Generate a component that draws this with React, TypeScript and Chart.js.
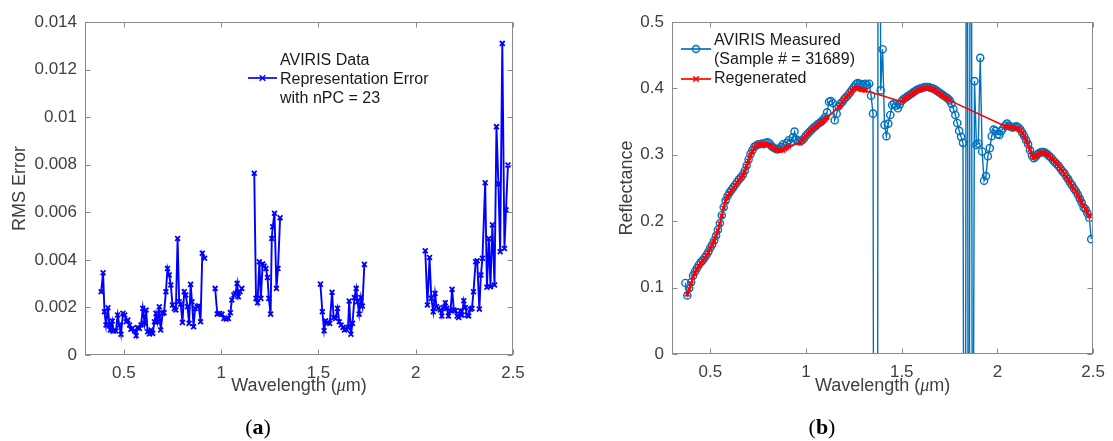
import React, { useEffect, useRef } from "react";
import { Chart, registerables } from "chart.js";

Chart.register(...registerables);

const FONT = "'Liberation Sans', Arial, Helvetica, sans-serif";
const SERIF = "'Liberation Serif', 'DejaVu Serif', serif";

// ---------- Panel (a): RMS representation error ----------
const rmsWavelength: (number | null)[] = [
  0.383, 0.393, 0.400, 0.408, 0.418, 0.425, 0.430, 0.440, 0.447, 0.459,
  0.468, 0.476, 0.485, 0.495, 0.504, 0.512, 0.520, 0.529, 0.536, 0.544,
  0.555, 0.563, 0.570, 0.580, 0.588, 0.597, 0.606, 0.614, 0.622, 0.631,
  0.639, 0.648, 0.657, 0.665, 0.673, 0.682, 0.689, 0.699, 0.706, 0.716,
  0.724, 0.733, 0.741, 0.750, 0.759, 0.767, 0.776, 0.784, 0.792, 0.801,
  0.810, 0.818, 0.827, 0.835, 0.843, 0.850, 0.858, 0.866, 0.877, 0.884,
  0.894, 0.903, 0.915,
  0.94,
  0.969, 0.980, 0.991, 1.004, 1.014, 1.026, 1.037, 1.047, 1.055, 1.065,
  1.073, 1.082, 1.088, 1.097, 1.106,
  1.14,
  1.170, 1.179, 1.187, 1.196, 1.204, 1.213, 1.221, 1.230, 1.238, 1.245,
  1.254, 1.260, 1.265, 1.274, 1.284, 1.292, 1.303,
  1.40,
  1.510, 1.520, 1.529, 1.537, 1.547, 1.558, 1.570, 1.578, 1.588, 1.598,
  1.607, 1.616, 1.626, 1.634, 1.643, 1.652, 1.658, 1.667, 1.675, 1.685,
  1.694, 1.701, 1.709, 1.718, 1.726, 1.736,
  1.90,
  2.049, 2.060, 2.071, 2.080, 2.090, 2.099, 2.107, 2.116, 2.126, 2.134,
  2.143, 2.152, 2.160, 2.168, 2.179, 2.187, 2.196, 2.204, 2.213, 2.221,
  2.230, 2.238, 2.247, 2.255, 2.264, 2.272, 2.281, 2.289, 2.297, 2.308,
  2.316, 2.327, 2.335, 2.343, 2.357, 2.366, 2.376, 2.384, 2.394, 2.405,
  2.415, 2.425, 2.434, 2.445, 2.456, 2.464, 2.474,
];

const rmsError: (number | null)[] = [
  0.00266, 0.00346, 0.00182, 0.00126, 0.00199, 0.00126, 0.00105, 0.00143, 0.00101, 0.00101,
  0.00168, 0.00126, 0.00087, 0.00175, 0.00168, 0.0014, 0.00147, 0.00126, 0.00108, 0.00112,
  0.00101, 0.00081, 0.00115, 0.00112, 0.00126, 0.00196, 0.00133, 0.00189, 0.00098, 0.00088,
  0.00105, 0.00091, 0.0014, 0.00175, 0.0014, 0.00203, 0.00105, 0.00175, 0.00178, 0.00266,
  0.00364, 0.00336, 0.00294, 0.0021, 0.00196, 0.00189, 0.0049, 0.00224, 0.00214, 0.00137,
  0.00266, 0.00252, 0.00203, 0.00133, 0.00297, 0.00224, 0.00119, 0.00196, 0.00203, 0.00207,
  0.0014, 0.00428, 0.00407,
  null,
  0.0028, 0.00172, 0.00175, 0.00172, 0.00154, 0.00151, 0.00154, 0.00178, 0.00231, 0.00252,
  0.00259, 0.00301, 0.00245, 0.00266, 0.0028,
  null,
  0.00764, 0.00238, 0.0022, 0.00392, 0.00238, 0.00383, 0.00374, 0.00364, 0.00326, 0.00238,
  0.00172, 0.0049, 0.00539, 0.00596, 0.0028, 0.00364, 0.00577,
  null,
  0.00298, 0.00182, 0.00102, 0.00144, 0.00136, 0.00133, 0.00264, 0.00158, 0.00154, 0.00196,
  0.0014, 0.00126, 0.00116, 0.00105, 0.00108, 0.00116, 0.00227, 0.00087, 0.00133, 0.00242,
  0.0028, 0.00224, 0.00172, 0.00242, 0.00206, 0.00381,
  null,
  0.00438, 0.0021, 0.0041, 0.00238, 0.00182, 0.00259, 0.00203, 0.00196, 0.00189, 0.00164,
  0.002, 0.0022, 0.00196, 0.00164, 0.00186, 0.00276, 0.00189, 0.00186, 0.00164, 0.00158,
  0.00186, 0.00168, 0.00228, 0.002, 0.00168, 0.00164, 0.00192, 0.00196, 0.00266, 0.00392,
  0.00396, 0.00193, 0.00336, 0.00407, 0.00724, 0.00285, 0.0049, 0.00287, 0.00547, 0.00294,
  0.0096, 0.00719, 0.00434, 0.0131, 0.00448, 0.0061, 0.00799,
];

const rmsTicks = [0, 0.002, 0.004, 0.006, 0.008, 0.01, 0.012, 0.014];
const rmsTickLabels = ["0", "0.002", "0.004", "0.006", "0.008", "0.01", "0.012", "0.014"];

// ---------- Panel (b): reflectance ----------
const bandWavelength: number[] = [
  0.37, 0.38, 0.39, 0.40, 0.41, 0.42, 0.43, 0.44, 0.45, 0.46,
  0.47, 0.48, 0.49, 0.50, 0.51, 0.52, 0.53, 0.54, 0.55, 0.56,
  0.57, 0.58, 0.59, 0.60, 0.61, 0.62, 0.63, 0.64, 0.65, 0.66,
  0.67, 0.68, 0.69, 0.70, 0.71, 0.72, 0.73, 0.74, 0.75, 0.76,
  0.77, 0.78, 0.79, 0.80, 0.81, 0.82, 0.83, 0.84, 0.85, 0.86,
  0.87, 0.88, 0.89, 0.90, 0.91, 0.92, 0.93, 0.94, 0.95, 0.96,
  0.97, 0.98, 0.99, 1.00, 1.01, 1.02, 1.03, 1.04, 1.05, 1.06,
  1.07, 1.08, 1.09, 1.10, 1.11, 1.12, 1.13, 1.14, 1.15, 1.16,
  1.17, 1.18, 1.19, 1.20, 1.21, 1.22, 1.23, 1.24, 1.25, 1.26,
  1.27, 1.28, 1.29, 1.30, 1.31, 1.32, 1.33, 1.34, 1.35, 1.36,
  1.37, 1.38, 1.39, 1.40, 1.41, 1.42, 1.43, 1.44, 1.45, 1.46,
  1.47, 1.48, 1.49, 1.50, 1.51, 1.52, 1.53, 1.54, 1.55, 1.56,
  1.57, 1.58, 1.59, 1.60, 1.61, 1.62, 1.63, 1.64, 1.65, 1.66,
  1.67, 1.68, 1.69, 1.70, 1.71, 1.72, 1.73, 1.74, 1.75, 1.76,
  1.77, 1.78, 1.79, 1.80, 1.81, 1.82, 1.83, 1.84, 1.85, 1.86,
  1.87, 1.88, 1.89, 1.90, 1.91, 1.92, 1.93, 1.94, 1.95, 1.96,
  1.97, 1.98, 1.99, 2.00, 2.01, 2.02, 2.03, 2.04, 2.05, 2.06,
  2.07, 2.08, 2.09, 2.10, 2.11, 2.12, 2.13, 2.14, 2.15, 2.16,
  2.17, 2.18, 2.19, 2.20, 2.21, 2.22, 2.23, 2.24, 2.25, 2.26,
  2.27, 2.28, 2.29, 2.30, 2.31, 2.32, 2.33, 2.34, 2.35, 2.36,
  2.37, 2.38, 2.39, 2.40, 2.41, 2.42, 2.43, 2.44, 2.45, 2.46,
  2.47, 2.48, 2.49,
];

const measuredReflectance: number[] = [
  0.107, 0.088, 0.099, 0.108, 0.118, 0.124, 0.129, 0.134, 0.138, 0.141,
  0.145, 0.149, 0.154, 0.160, 0.165, 0.171, 0.178, 0.187, 0.197, 0.209,
  0.221, 0.231, 0.238, 0.243, 0.247, 0.251, 0.255, 0.259, 0.263, 0.266,
  0.270, 0.276, 0.284, 0.293, 0.301, 0.307, 0.312, 0.314, 0.316, 0.316,
  0.317, 0.316, 0.318, 0.319, 0.317, 0.313, 0.311, 0.309, 0.308, 0.309,
  0.312, 0.316, 0.313, 0.318, 0.322, 0.318, 0.326, 0.335, 0.323, 0.321,
  0.320, 0.322, 0.325, 0.329, 0.332, 0.335, 0.338, 0.341, 0.343, 0.346,
  0.348, 0.350, 0.353, 0.357, 0.364, 0.380, 0.381, 0.378, 0.352, 0.362,
  0.373, 0.377, 0.380, 0.384, 0.387, 0.390, 0.394, 0.398, 0.402, 0.406,
  0.408, 0.407, 0.406, 0.406, 0.407, 0.405, 0.407, 0.389, 0.362, -1.5,
  -1.5, 2.0, 0.397, 0.459, 0.345, 0.328, 0.347, 0.360, 0.375, 0.377,
  0.374, 0.370, 0.376, 0.381, 0.384, 0.386, 0.388, 0.390, 0.392, 0.394,
  0.396, 0.398, 0.399, 0.400, 0.401, 0.402, 0.402, 0.402, 0.401, 0.400,
  0.399, 0.397, 0.395, 0.393, 0.391, 0.389, 0.387, 0.385, 0.382, 0.377,
  0.369, 0.360, 0.348, 0.336, 0.327, 0.318, -1.0, 1.5, -1.0, 1.5,
  -0.5, 0.411, 0.315, 0.317, 0.446, 0.305, 0.261, 0.268, 0.298, 0.310,
  0.328, 0.338, 0.336, 0.331, 0.330, 0.336, 0.340, 0.344, 0.347, 0.344,
  0.342, 0.341, 0.342, 0.343, 0.341, 0.338, 0.333, 0.328, 0.322, 0.316,
  0.307, 0.299, 0.295, 0.297, 0.301, 0.303, 0.304, 0.304, 0.303, 0.301,
  0.298, 0.296, 0.292, 0.289, 0.286, 0.283, 0.279, 0.275, 0.272, 0.267,
  0.263, 0.258, 0.254, 0.249, 0.245, 0.240, 0.234, 0.228, 0.221, 0.218,
  0.212, 0.205, 0.173,
];

const regeneratedReflectance: (number | null)[] = [
  null, 0.090, 0.098, 0.106, 0.116, 0.122, 0.128, 0.133, 0.137, 0.140,
  0.144, 0.148, 0.153, 0.159, 0.164, 0.170, 0.178, 0.186, 0.196, 0.208,
  0.220, 0.230, 0.237, 0.242, 0.246, 0.250, 0.254, 0.258, 0.262, 0.265,
  0.269, 0.275, 0.283, 0.291, 0.299, 0.305, 0.310, 0.313, 0.315, 0.316,
  0.316, 0.316, 0.316, 0.315, 0.314, 0.312, 0.310, 0.308, 0.307, 0.307,
  0.307, 0.307, 0.309, 0.311, 0.313, null, null, null, null, null,
  0.318, 0.321, 0.324, 0.328, 0.331, 0.334, 0.337, 0.340, 0.342, 0.345,
  0.347, 0.349, 0.351, 0.353, 0.356, null, null, null, null, null,
  0.372, 0.375, 0.379, 0.383, 0.386, 0.389, 0.393, 0.396, 0.399, 0.401,
  0.400, 0.399, 0.398, 0.398, 0.397, null, null, null, null, null,
  null, null, null, null, null, null, null, null, null, null,
  null, null, null, 0.380, 0.382, 0.385, 0.387, 0.389, 0.391, 0.393,
  0.395, 0.397, 0.398, 0.399, 0.400, 0.401, 0.401, 0.401, 0.400, 0.399,
  0.398, 0.396, 0.394, 0.392, 0.390, 0.388, 0.386, 0.384, 0.382, null,
  null, null, null, null, null, null, null, null, null, null,
  null, null, null, null, null, null, null, null, null, null,
  null, null, null, null, null, null, null, 0.343, 0.342, 0.342,
  0.341, 0.341, 0.340, 0.340, 0.339, 0.337, 0.333, 0.328, 0.322, 0.316,
  0.308, 0.300, 0.296, 0.297, 0.300, 0.302, 0.303, 0.303, 0.302, 0.300,
  0.298, 0.295, 0.292, 0.289, 0.286, 0.283, 0.279, 0.275, 0.271, 0.267,
  0.263, 0.258, 0.253, 0.249, 0.245, 0.240, 0.234, 0.228, 0.223, 0.218,
  0.213, 0.208, null,
];

const reflTicks = [0, 0.1, 0.2, 0.3, 0.4, 0.5];
const reflTickLabels = ["0", "0.1", "0.2", "0.3", "0.4", "0.5"];

const wlTicks = [0.5, 1, 1.5, 2, 2.5];
const wlTickLabels = ["0.5", "1", "1.5", "2", "2.5"];

const AXIS_COLOR = "#8a8a8a";
const TEXT_COLOR = "#404040";

type LegendEntry = {
  lines: string[];
  lineYs: number[];
  sampleY: number;
  color: string;
  marker: "circle" | "cross";
};

type Decor = {
  xTicks: number[];
  yTicks: number[];
  yTitle: string;
  yTitleX: number;
  xTitleY: number;
  legendX0: number;
  legendX1: number;
  legendTextX: number;
  legend: LegendEntry[];
  panel: string;
  panelX: number;
  panelY: number;
};

function drawMarker(ctx: CanvasRenderingContext2D, kind: string, x: number, y: number, color: string) {
  ctx.save();
  ctx.strokeStyle = color;
  ctx.lineWidth = 1.5;
  ctx.beginPath();
  if (kind === "circle") {
    ctx.arc(x, y, 3.5, 0, Math.PI * 2);
  } else {
    const r = 2.8;
    ctx.moveTo(x - r, y - r);
    ctx.lineTo(x + r, y + r);
    ctx.moveTo(x - r, y + r);
    ctx.lineTo(x + r, y - r);
  }
  ctx.stroke();
  ctx.restore();
}

function drawMixed(ctx: CanvasRenderingContext2D, parts: [string, string][], cx: number, cy: number) {
  let total = 0;
  for (const [t, f] of parts) {
    ctx.font = f;
    total += ctx.measureText(t).width;
  }
  let x = cx - total / 2;
  ctx.textAlign = "left";
  ctx.textBaseline = "middle";
  for (const [t, f] of parts) {
    ctx.font = f;
    ctx.fillText(t, x, cy);
    x += ctx.measureText(t).width;
  }
}

function makeDecorPlugin(d: Decor) {
  return {
    id: "matlabDecor",
    afterDraw(chart: any) {
      const { ctx, chartArea: a, scales } = chart;
      ctx.save();
      // frame
      ctx.strokeStyle = AXIS_COLOR;
      ctx.lineWidth = 1;
      const L = Math.round(a.left) + 0.5;
      const R = Math.round(a.right) - 0.5;
      const T = Math.round(a.top) + 0.5;
      const B = Math.round(a.bottom) - 0.5;
      ctx.strokeRect(L, T, R - L, B - T);
      const tl = 5;
      ctx.beginPath();
      for (const v of d.xTicks) {
        const px = Math.round(scales.x.getPixelForValue(v)) + 0.5;
        ctx.moveTo(px, B);
        ctx.lineTo(px, B - tl);
        ctx.moveTo(px, T);
        ctx.lineTo(px, T + tl);
      }
      for (const v of d.yTicks) {
        const py = Math.round(scales.y.getPixelForValue(v)) + 0.5;
        ctx.moveTo(L, py);
        ctx.lineTo(L + tl, py);
        ctx.moveTo(R, py);
        ctx.lineTo(R - tl, py);
      }
      ctx.stroke();

      // axis titles
      ctx.fillStyle = TEXT_COLOR;
      ctx.save();
      ctx.translate(d.yTitleX, (a.top + a.bottom) / 2);
      ctx.rotate(-Math.PI / 2);
      ctx.font = `18px ${FONT}`;
      ctx.textAlign = "center";
      ctx.textBaseline = "middle";
      ctx.fillText(d.yTitle, 0, 0);
      ctx.restore();
      drawMixed(
        ctx,
        [
          ["Wavelength (", `18px ${FONT}`],
          ["\u03bc", `italic 18px ${SERIF}`],
          ["m)", `18px ${FONT}`],
        ],
        (a.left + a.right) / 2,
        d.xTitleY
      );

      // legend
      ctx.fillStyle = "#1a1a1a";
      ctx.font = `16px ${FONT}`;
      ctx.textAlign = "left";
      ctx.textBaseline = "middle";
      for (const e of d.legend) {
        ctx.save();
        ctx.strokeStyle = e.color;
        ctx.lineWidth = 1.7;
        ctx.beginPath();
        ctx.moveTo(d.legendX0, e.sampleY);
        ctx.lineTo(d.legendX1, e.sampleY);
        ctx.stroke();
        ctx.restore();
        drawMarker(ctx, e.marker, (d.legendX0 + d.legendX1) / 2, e.sampleY, e.color);
        e.lines.forEach((t, i) => ctx.fillText(t, d.legendTextX, e.lineYs[i]));
      }

      // panel label
      ctx.fillStyle = "#000";
      drawMixed(
        ctx,
        [
          ["(", `22px ${SERIF}`],
          [d.panel, `bold 22px ${SERIF}`],
          [")", `22px ${SERIF}`],
        ],
        d.panelX,
        d.panelY
      );
      ctx.restore();
    },
  };
}

function scaleOpts(min: number, max: number, ticks: number[], labels: string[], pad: number, fit: (s: any) => void) {
  return {
    type: "linear" as const,
    min,
    max,
    grid: { display: false, drawTicks: false },
    border: { display: false },
    afterBuildTicks: (s: any) => {
      s.ticks = ticks.map((v) => ({ value: v }));
    },
    afterFit: fit,
    ticks: {
      padding: pad,
      color: TEXT_COLOR,
      font: { family: FONT, size: 17 },
      autoSkip: false,
      maxRotation: 0,
      callback: (_v: any, i: number) => labels[i],
    },
  };
}

export default function App() {
  const leftRef = useRef<HTMLCanvasElement>(null);
  const rightRef = useRef<HTMLCanvasElement>(null);

  useEffect(() => {
    const leftDecor: Decor = {
      xTicks: wlTicks,
      yTicks: rmsTicks,
      yTitle: "RMS Error",
      yTitleX: 20,
      xTitleY: 386,
      legendX0: 248,
      legendX1: 277,
      legendTextX: 280,
      legend: [
        {
          lines: ["AVIRIS Data", "Representation Error", "with nPC = 23"],
          lineYs: [61, 80, 99],
          sampleY: 78,
          color: "#0000ff",
          marker: "cross",
        },
      ],
      panel: "a",
      panelX: 258,
      panelY: 428,
    };

    const left = new Chart(leftRef.current as HTMLCanvasElement, {
      type: "line",
      data: {
        datasets: [
          {
            data: rmsWavelength.map((x, i) => ({ x: x as number, y: rmsError[i] as any })),
            borderColor: "#0000ff",
            backgroundColor: "#0000ff",
            borderWidth: 1.9,
            pointStyle: "crossRot",
            pointRadius: 3.4,
            pointBorderWidth: 1.8,
            pointBorderColor: "#0000ff",
            spanGaps: false,
            tension: 0,
          },
        ],
      },
      options: {
        animation: false,
        responsive: false,
        devicePixelRatio: 1,
        events: [],
        layout: { padding: { top: 22, right: 32, left: 0, bottom: 0 }, autoPadding: false },
        plugins: { legend: { display: false }, tooltip: { enabled: false } },
        scales: {
          x: scaleOpts(0.3, 2.5, wlTicks, wlTickLabels, 8, (s: any) => {
            s.height = 86;
          }),
          y: scaleOpts(0, 0.014, rmsTicks, rmsTickLabels, 8, (s: any) => {
            s.width = 85;
          }),
        },
      } as any,
      plugins: [makeDecorPlugin(leftDecor)],
    });

    const rightDecor: Decor = {
      xTicks: wlTicks,
      yTicks: reflTicks,
      yTitle: "Reflectance",
      yTitleX: 67,
      xTitleY: 386,
      legendX0: 121,
      legendX1: 151,
      legendTextX: 154,
      legend: [
        {
          lines: ["AVIRIS Measured", "(Sample # = 31689)"],
          lineYs: [41, 60],
          sampleY: 49,
          color: "#0072BD",
          marker: "circle",
        },
        {
          lines: ["Regenerated"],
          lineYs: [79],
          sampleY: 79,
          color: "#ff0000",
          marker: "cross",
        },
      ],
      panel: "b",
      panelX: 262,
      panelY: 428,
    };

    const right = new Chart(rightRef.current as HTMLCanvasElement, {
      type: "line",
      data: {
        datasets: [
          {
            data: bandWavelength.map((x, i) => ({ x, y: regeneratedReflectance[i] as any })),
            borderColor: "#ff0000",
            backgroundColor: "#ff0000",
            borderWidth: 1.6,
            pointStyle: "crossRot",
            pointRadius: 3,
            pointBorderWidth: 1.8,
            pointBorderColor: "#ff0000",
            spanGaps: true,
            tension: 0,
            order: 1,
          },
          {
            data: bandWavelength.map((x, i) => ({ x, y: measuredReflectance[i] })),
            borderColor: "#0072BD",
            backgroundColor: "rgba(0,0,0,0)",
            borderWidth: 1.4,
            pointStyle: "circle",
            pointRadius: 3.6,
            pointBorderWidth: 1.4,
            pointBorderColor: "#0072BD",
            pointBackgroundColor: "rgba(0,0,0,0)",
            spanGaps: false,
            tension: 0,
            order: 2,
          },
        ],
      },
      options: {
        animation: false,
        responsive: false,
        devicePixelRatio: 1,
        events: [],
        layout: { padding: { top: 22, right: 15, left: 0, bottom: 0 }, autoPadding: false },
        plugins: { legend: { display: false }, tooltip: { enabled: false } },
        scales: {
          x: scaleOpts(0.3, 2.5, wlTicks, wlTickLabels, 8, (s: any) => {
            s.height = 87;
          }),
          y: scaleOpts(0, 0.5, reflTicks, reflTickLabels, 8, (s: any) => {
            s.width = 112;
          }),
        },
      } as any,
      plugins: [makeDecorPlugin(rightDecor)],
    });

    return () => {
      left.destroy();
      right.destroy();
    };
  }, []);

  return (
    <div
      style={{
        position: "absolute",
        left: 0,
        top: 0,
        width: 1113,
        height: 441,
        background: "#ffffff",
        overflow: "hidden",
      }}
    >
      <canvas
        ref={leftRef}
        width={545}
        height={441}
        style={{ position: "absolute", left: 0, top: 0, width: 545, height: 441 }}
      />
      <canvas
        ref={rightRef}
        width={553}
        height={441}
        style={{ position: "absolute", left: 560, top: 0, width: 553, height: 441 }}
      />
    </div>
  );
}
